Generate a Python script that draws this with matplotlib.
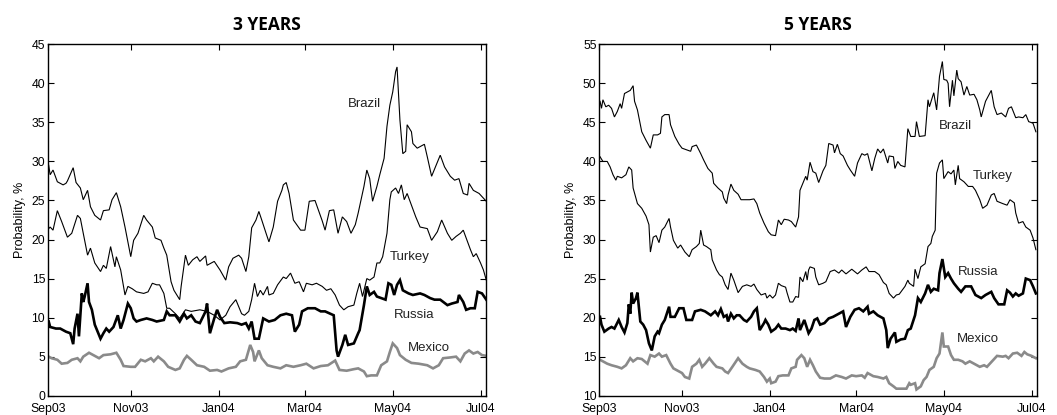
import pandas as pd
import matplotlib
matplotlib.use("Agg")
import matplotlib.pyplot as plt

# days counted from 1 Sep 2003, values in %
brazil3_day = [4, 5, 7, 10, 12, 14, 16, 17, 21, 23, 26, 28, 31, 33, 36, 40, 42, 46, 48, 51, 54, 57, 61, 63, 66, 70, 72, 76, 78, 82, 84, 86, 89, 91, 94, 95, 96, 99, 101, 104, 107, 109, 113, 114, 119, 123, 127, 129, 132, 136, 138, 141, 143, 145, 148, 150, 152, 155, 157, 160, 163, 166, 167, 169, 171, 174, 179, 182, 185, 189, 194, 196, 199, 202, 205, 208, 211, 214, 217, 219, 223, 225, 227, 229, 232, 234, 237, 239, 241, 243, 245, 246, 248, 250, 252, 253, 256, 257, 260, 262, 265, 267, 270, 272, 276, 279, 283, 286, 289, 292, 295, 296, 299, 303, 305, 308]
brazil3_val = [29.5, 28.3, 28.9, 27.4, 27.2, 27.0, 27.2, 27.5, 29.2, 27.3, 26.6, 25.1, 26.3, 24.2, 23.1, 22.5, 23.7, 23.8, 25.1, 26.0, 24.2, 21.6, 17.8, 19.9, 20.8, 23.1, 22.5, 21.6, 20.2, 19.9, 18.9, 18.0, 14.6, 13.5, 12.6, 12.3, 14.0, 18.0, 16.7, 17.4, 17.8, 17.2, 17.9, 16.7, 17.2, 16.1, 14.8, 16.5, 17.6, 18.0, 17.6, 15.9, 17.8, 21.5, 22.5, 23.6, 22.5, 20.8, 19.7, 21.6, 24.9, 26.3, 27.0, 27.3, 25.9, 22.5, 21.2, 21.2, 24.9, 25.0, 22.4, 21.2, 23.7, 23.8, 20.8, 22.9, 22.3, 20.8, 21.9, 23.4, 26.8, 28.9, 27.8, 24.9, 26.8, 28.3, 30.4, 34.5, 37.2, 38.9, 41.5, 42.1, 35.3, 31.0, 31.3, 34.7, 33.8, 32.3, 31.7, 31.9, 32.2, 30.6, 28.1, 29.0, 30.8, 29.3, 28.1, 27.6, 27.8, 25.9, 25.7, 27.2, 26.3, 25.9, 25.5, 24.9]

turkey3_day = [4, 5, 7, 10, 13, 17, 20, 24, 26, 28, 31, 33, 36, 40, 42, 44, 47, 50, 51, 54, 57, 59, 62, 65, 70, 73, 76, 79, 81, 84, 86, 88, 92, 95, 99, 103, 109, 114, 119, 123, 127, 130, 134, 138, 140, 143, 145, 147, 149, 151, 153, 156, 157, 160, 163, 167, 169, 172, 175, 178, 181, 183, 187, 190, 194, 197, 200, 203, 206, 209, 212, 216, 218, 220, 222, 225, 227, 230, 232, 234, 236, 239, 241, 242, 245, 247, 249, 251, 253, 256, 259, 262, 267, 270, 274, 277, 281, 284, 287, 290, 292, 294, 297, 299, 301, 304, 306, 308]
turkey3_val = [21.4, 21.6, 21.2, 23.7, 22.3, 20.3, 20.8, 23.1, 22.7, 20.8, 18.0, 18.9, 17.0, 15.9, 16.7, 16.3, 19.1, 16.5, 17.8, 16.1, 12.9, 14.0, 13.7, 13.3, 13.1, 13.3, 14.4, 14.2, 14.2, 13.1, 11.2, 11.2, 10.5, 9.9, 11.0, 10.8, 11.0, 10.8, 10.3, 9.7, 10.3, 11.4, 12.3, 10.5, 10.3, 10.8, 12.3, 14.4, 12.7, 13.5, 12.9, 14.0, 12.9, 13.1, 14.2, 15.2, 15.0, 15.7, 14.4, 14.6, 13.3, 14.4, 14.2, 14.4, 14.0, 13.5, 13.7, 12.9, 11.6, 11.0, 11.4, 11.6, 13.1, 14.4, 12.7, 15.0, 14.8, 15.2, 17.0, 17.0, 17.8, 20.8, 25.1, 26.1, 26.6, 25.9, 27.0, 25.1, 25.9, 24.4, 22.9, 21.6, 21.4, 19.9, 21.0, 22.5, 20.8, 19.9, 20.4, 20.8, 21.2, 20.2, 18.7, 17.8, 18.2, 17.0, 16.1, 14.8]

russia3_day = [4, 5, 9, 12, 16, 19, 21, 22, 24, 25, 27, 28, 29, 31, 32, 34, 36, 40, 42, 44, 46, 49, 52, 54, 56, 59, 61, 63, 65, 68, 72, 76, 79, 84, 86, 88, 92, 95, 98, 100, 103, 106, 109, 113, 114, 116, 119, 121, 123, 126, 130, 135, 138, 141, 143, 145, 147, 150, 153, 157, 161, 165, 169, 173, 175, 178, 180, 184, 189, 193, 196, 202, 204, 205, 208, 210, 212, 216, 219, 220, 223, 225, 227, 230, 232, 235, 238, 240, 242, 244, 246, 248, 250, 254, 257, 262, 265, 269, 272, 276, 281, 284, 288, 289, 292, 294, 297, 300, 302, 305, 308]
russia3_val = [9.5, 8.8, 8.6, 8.6, 8.2, 8.0, 6.6, 8.6, 10.5, 7.6, 13.1, 12.0, 12.7, 14.4, 12.0, 11.0, 9.1, 7.3, 8.0, 8.6, 8.2, 8.8, 10.3, 8.6, 9.7, 11.8, 11.2, 9.9, 9.5, 9.7, 9.9, 9.7, 9.5, 9.7, 10.8, 10.3, 10.3, 9.5, 10.5, 9.9, 10.3, 9.5, 9.3, 10.8, 11.8, 8.0, 9.9, 11.0, 10.1, 9.3, 9.4, 9.3, 9.1, 9.3, 8.6, 9.5, 7.3, 7.3, 9.9, 9.5, 9.7, 10.3, 10.5, 10.3, 8.2, 9.1, 10.8, 11.2, 11.2, 10.8, 10.8, 10.3, 5.8, 5.0, 6.5, 7.8, 6.5, 6.7, 8.0, 8.4, 11.6, 14.0, 12.9, 13.3, 12.7, 12.5, 12.3, 14.4, 14.2, 12.9, 14.2, 14.8, 13.5, 13.1, 12.9, 13.1, 12.9, 12.5, 12.3, 12.3, 11.6, 11.8, 12.0, 12.9, 12.0, 11.0, 11.2, 11.2, 13.3, 13.1, 12.3]

mexico3_day = [4, 6, 10, 13, 17, 20, 24, 26, 28, 32, 35, 39, 42, 47, 51, 54, 56, 61, 64, 68, 71, 75, 77, 80, 84, 87, 92, 95, 98, 100, 103, 107, 112, 116, 121, 124, 129, 134, 137, 141, 144, 146, 147, 150, 152, 156, 160, 165, 169, 174, 179, 183, 188, 193, 198, 203, 206, 211, 216, 219, 223, 225, 228, 232, 235, 239, 241, 243, 246, 248, 252, 256, 261, 267, 271, 275, 278, 283, 287, 290, 293, 296, 299, 302, 305, 308]
mexico3_val = [5.0, 4.8, 4.6, 4.1, 4.2, 4.6, 4.8, 4.4, 5.0, 5.5, 5.2, 4.8, 5.2, 5.3, 5.5, 4.6, 3.8, 3.7, 3.7, 4.6, 4.4, 4.8, 4.4, 5.0, 4.4, 3.7, 3.3, 3.5, 4.6, 5.1, 4.6, 3.9, 3.7, 3.2, 3.3, 3.1, 3.5, 3.7, 4.4, 4.6, 6.5, 5.6, 4.4, 5.8, 4.8, 3.9, 3.7, 3.5, 3.9, 3.7, 3.9, 4.1, 3.5, 3.8, 3.9, 4.5, 3.3, 3.2, 3.4, 3.5, 3.1, 2.5, 2.6, 2.6, 3.9, 4.4, 5.6, 6.7, 6.1, 5.2, 4.6, 4.2, 4.1, 3.9, 3.5, 3.9, 4.8, 4.9, 5.0, 4.4, 5.4, 5.8, 5.4, 5.6, 5.2, 5.1]

brazil5_day = [4, 5, 6, 8, 10, 12, 14, 16, 18, 19, 21, 23, 25, 27, 28, 30, 32, 33, 36, 39, 41, 44, 46, 47, 49, 52, 53, 56, 59, 61, 64, 67, 68, 71, 74, 76, 79, 82, 83, 86, 89, 90, 92, 93, 95, 97, 100, 102, 106, 108, 111, 113, 115, 118, 121, 123, 126, 128, 130, 132, 135, 137, 140, 142, 143, 145, 147, 148, 150, 152, 154, 156, 159, 161, 163, 166, 167, 169, 171, 173, 176, 178, 181, 183, 186, 188, 190, 193, 195, 197, 199, 201, 204, 205, 208, 209, 211, 213, 216, 218, 220, 223, 224, 226, 230, 232, 233, 236, 238, 240, 242, 243, 245, 246, 247, 249, 250, 252, 253, 255, 257, 259, 261, 264, 266, 268, 269, 272, 276, 278, 280, 283, 286, 288, 290, 293, 295, 298, 300, 302, 305, 307]
brazil5_val = [47.7, 46.8, 47.9, 47.0, 47.2, 46.8, 45.7, 46.4, 47.4, 46.8, 48.7, 48.9, 49.1, 49.7, 47.7, 46.6, 44.7, 43.8, 42.7, 41.7, 43.4, 43.4, 43.6, 45.7, 46.0, 46.0, 44.7, 43.2, 42.2, 41.7, 41.5, 41.3, 41.9, 42.1, 41.0, 40.2, 39.1, 38.5, 37.2, 36.6, 36.1, 35.3, 34.6, 35.7, 37.1, 36.3, 35.8, 35.1, 35.1, 35.1, 35.2, 34.6, 33.4, 32.1, 31.0, 30.6, 30.5, 32.5, 31.9, 32.6, 32.5, 32.3, 31.6, 32.9, 36.3, 37.2, 38.1, 37.6, 39.9, 38.7, 38.5, 37.3, 38.8, 39.5, 42.3, 42.1, 41.1, 42.2, 41.0, 40.7, 39.5, 38.9, 38.1, 39.8, 41.0, 40.8, 41.0, 38.8, 40.4, 41.6, 41.1, 41.6, 39.8, 40.7, 40.6, 39.1, 40.0, 39.5, 39.3, 44.2, 43.2, 43.2, 45.1, 43.2, 43.3, 47.9, 47.0, 48.8, 46.6, 50.9, 52.8, 50.5, 50.4, 50.0, 47.0, 50.4, 48.4, 51.7, 50.6, 50.2, 48.5, 49.6, 48.5, 48.6, 47.9, 46.6, 45.7, 47.7, 49.1, 47.0, 46.0, 46.2, 45.7, 46.8, 47.0, 45.6, 45.7, 45.6, 46.0, 45.1, 44.9, 43.8]

turkey5_day = [4, 6, 9, 11, 13, 15, 16, 19, 22, 24, 26, 27, 30, 33, 36, 38, 39, 41, 43, 45, 47, 49, 52, 53, 55, 58, 60, 63, 66, 68, 71, 73, 74, 76, 78, 81, 82, 85, 87, 89, 91, 93, 95, 97, 100, 103, 106, 109, 111, 113, 116, 119, 120, 122, 124, 126, 128, 130, 133, 134, 136, 138, 140, 142, 143, 145, 147, 148, 149, 150, 153, 154, 156, 159, 161, 164, 167, 170, 172, 175, 179, 181, 183, 186, 189, 191, 195, 198, 201, 203, 205, 208, 210, 212, 216, 218, 219, 222, 223, 225, 227, 230, 232, 234, 235, 237, 238, 240, 242, 243, 246, 248, 250, 251, 253, 254, 257, 260, 263, 265, 268, 270, 273, 276, 278, 280, 284, 287, 289, 292, 293, 295, 298, 300, 303, 305, 307]
turkey5_val = [40.6, 40.0, 40.0, 39.3, 38.3, 37.6, 38.1, 37.9, 38.3, 39.3, 38.9, 36.6, 34.6, 34.0, 33.0, 31.9, 28.4, 30.3, 30.5, 29.6, 31.2, 31.6, 32.7, 31.6, 29.9, 28.9, 29.3, 28.4, 27.8, 28.7, 29.1, 29.5, 31.2, 29.3, 29.1, 28.7, 27.4, 26.1, 25.5, 25.2, 24.2, 23.6, 25.7, 24.8, 23.2, 24.0, 24.2, 24.0, 24.3, 23.6, 22.9, 23.1, 22.5, 22.9, 22.5, 22.9, 24.4, 24.1, 23.9, 23.2, 22.0, 22.0, 22.7, 22.6, 25.2, 24.6, 25.9, 24.8, 26.1, 26.5, 26.3, 25.2, 24.2, 24.4, 24.6, 25.9, 26.1, 25.7, 26.1, 25.6, 26.2, 25.9, 25.6, 26.1, 26.5, 25.9, 25.9, 25.5, 24.5, 24.2, 23.1, 22.5, 22.9, 23.0, 24.0, 24.8, 24.4, 24.0, 26.2, 25.0, 26.5, 26.9, 29.1, 29.5, 30.4, 31.2, 38.5, 39.8, 40.2, 37.8, 38.7, 38.4, 38.9, 37.0, 39.5, 37.8, 37.4, 36.8, 36.8, 36.3, 35.1, 34.0, 34.4, 35.7, 35.9, 34.9, 34.6, 34.4, 35.1, 34.7, 33.4, 32.1, 32.3, 31.6, 31.2, 30.2, 28.7]

russia5_day = [4, 5, 7, 10, 12, 14, 17, 19, 21, 23, 24, 25, 26, 27, 29, 30, 32, 34, 36, 38, 40, 42, 44, 45, 47, 49, 52, 53, 56, 59, 62, 64, 68, 70, 74, 77, 81, 84, 86, 88, 90, 92, 93, 95, 97, 99, 101, 104, 106, 109, 111, 113, 115, 118, 119, 121, 123, 126, 128, 130, 133, 136, 138, 140, 142, 143, 146, 149, 151, 153, 155, 157, 160, 163, 166, 170, 173, 175, 178, 181, 184, 187, 190, 191, 194, 197, 201, 203, 204, 206, 209, 210, 213, 216, 218, 220, 223, 225, 227, 230, 232, 234, 236, 239, 240, 242, 244, 246, 248, 250, 253, 255, 258, 262, 265, 269, 272, 276, 278, 281, 285, 287, 289, 291, 293, 295, 298, 300, 303, 305, 307]
russia5_val = [20.1, 19.1, 18.2, 18.6, 18.8, 18.6, 19.7, 18.8, 18.1, 19.3, 21.7, 20.5, 23.2, 21.8, 22.5, 23.2, 19.5, 19.1, 18.4, 16.7, 15.8, 17.6, 18.2, 18.0, 19.1, 19.7, 21.4, 20.1, 20.1, 21.2, 21.2, 19.7, 19.7, 20.8, 21.0, 20.8, 20.3, 20.8, 20.3, 21.1, 20.1, 20.3, 19.5, 20.5, 19.9, 20.3, 20.3, 19.7, 19.5, 20.1, 20.8, 21.2, 18.4, 19.3, 19.7, 19.1, 18.2, 18.6, 19.1, 18.6, 18.6, 18.4, 18.6, 18.3, 19.9, 18.4, 19.7, 18.0, 18.6, 19.7, 19.9, 19.1, 19.3, 19.9, 20.1, 20.5, 20.8, 18.8, 20.1, 21.0, 21.2, 20.8, 21.4, 20.5, 20.8, 20.3, 19.9, 18.4, 16.1, 17.3, 18.1, 16.9, 17.2, 17.3, 18.4, 18.6, 20.3, 22.5, 22.0, 23.1, 24.2, 23.3, 23.7, 23.5, 25.7, 27.5, 25.2, 25.7, 25.0, 24.4, 23.7, 23.3, 24.0, 24.0, 22.9, 22.5, 22.9, 23.3, 22.5, 21.7, 21.7, 23.5, 23.2, 22.7, 23.1, 22.8, 23.1, 25.0, 24.8, 24.0, 23.1]

mexico5_day = [4, 6, 9, 12, 16, 19, 22, 25, 27, 30, 33, 37, 39, 42, 45, 47, 50, 53, 55, 59, 61, 63, 66, 68, 71, 73, 75, 77, 80, 83, 85, 89, 91, 93, 96, 100, 103, 106, 108, 112, 115, 118, 120, 122, 123, 126, 128, 131, 135, 137, 140, 141, 144, 146, 148, 150, 152, 154, 157, 160, 164, 168, 172, 175, 179, 182, 186, 188, 190, 194, 197, 201, 203, 205, 208, 210, 213, 217, 219, 220, 223, 224, 227, 229, 231, 233, 236, 238, 240, 242, 243, 246, 248, 250, 253, 256, 258, 261, 264, 268, 271, 273, 277, 280, 284, 286, 288, 291, 294, 297, 299, 301, 304, 307]
mexico5_val = [14.6, 14.4, 14.1, 13.9, 13.7, 13.5, 13.9, 14.8, 14.4, 14.8, 14.7, 14.1, 15.2, 15.0, 15.4, 15.0, 15.2, 14.1, 13.5, 13.1, 12.9, 12.4, 12.2, 13.7, 14.1, 14.6, 13.7, 14.1, 14.8, 14.1, 13.7, 13.5, 13.1, 12.9, 13.7, 14.8, 14.1, 13.7, 13.5, 13.3, 13.1, 12.4, 11.8, 12.2, 11.6, 11.8, 12.5, 12.6, 12.6, 13.5, 13.7, 14.6, 15.2, 14.8, 13.7, 14.6, 13.9, 13.1, 12.3, 12.2, 12.2, 12.6, 12.4, 12.2, 12.6, 12.5, 12.6, 12.3, 12.9, 12.5, 12.4, 12.2, 12.4, 11.6, 11.2, 10.9, 10.9, 10.9, 11.6, 11.4, 11.6, 10.8, 11.2, 12.0, 12.4, 13.3, 13.7, 14.8, 15.4, 18.1, 16.3, 16.3, 15.2, 14.6, 14.6, 14.4, 14.1, 14.4, 14.1, 13.7, 13.9, 13.7, 14.5, 15.1, 15.0, 15.1, 14.8, 15.4, 15.5, 15.1, 15.6, 15.3, 15.1, 14.8]

tick_days = [61, 122, 182, 243, 304]
tick_labels = ["Sep03", "Nov03", "Jan04", "Mar04", "May04", "Jul04"]

start = pd.Timestamp("2003-09-01")


def to_date(days):
    return start + pd.to_timedelta(days, unit="D")


panels = [
    {
        "title": "3 YEARS", "ylim": (0, 45),
        "series": [(brazil3_day, brazil3_val), (turkey3_day, turkey3_val),
                   (russia3_day, russia3_val), (mexico3_day, mexico3_val)],
        "labels": [("Brazil", 223, 37.4), ("Turkey", 255, 17.8),
                   ("Russia", 258, 10.3), ("Mexico", 268, 6.1)],
    },
    {
        "title": "5 YEARS", "ylim": (10, 55),
        "series": [(brazil5_day, brazil5_val), (turkey5_day, turkey5_val),
                   (russia5_day, russia5_val), (mexico5_day, mexico5_val)],
        "labels": [("Brazil", 251, 44.5), ("Turkey", 277, 38.1),
                   ("Russia", 267, 25.8), ("Mexico", 267, 17.2)],
    },
]

styles = [dict(color="black", lw=0.8), dict(color="black", lw=0.8),
          dict(color="black", lw=1.9), dict(color="#8a8a8a", lw=1.9)]

plt.rcParams["font.family"] = ["Liberation Sans", "DejaVu Sans"]
fig = plt.figure(figsize=(10.57, 4.15), dpi=100)
positions = [[0.0454, 0.0465, 0.4144, 0.8467], [0.567, 0.0465, 0.4141, 0.8467]]

x_lo, x_hi = 3.5, 307.8

for pos, p in zip(positions, panels):
    ax = fig.add_axes(pos)
    for (d, v), st in zip(p["series"], styles):
        ax.plot(to_date(d), v, solid_joinstyle="miter", **st)
    for name, d, v in p["labels"]:
        ax.text(to_date(d), v, name, ha="center", va="center", fontsize=9.5, color="#222222")
    ax.set_xlim(to_date(x_lo), to_date(x_hi))
    ax.set_ylim(*p["ylim"])
    ax.set_yticks(range(p["ylim"][0], p["ylim"][1] + 1, 5))
    ax.set_xticks([to_date(x_lo)] + list(to_date(tick_days)))
    ax.set_xticklabels(tick_labels)
    ax.tick_params(direction="in", top=True, right=True, labelsize=8.8, length=4)
    ax.tick_params(axis="y", pad=2)
    ax.tick_params(axis="x", pad=5)
    ax.set_ylabel("Probability, %", fontsize=9, labelpad=4)
    for s in ax.spines.values():
        s.set_linewidth(1.0)
    ax.set_title(p["title"], fontsize=12.5, fontweight="bold", family="Open Sans", pad=10)

fig.savefig("out.png", dpi=100)
